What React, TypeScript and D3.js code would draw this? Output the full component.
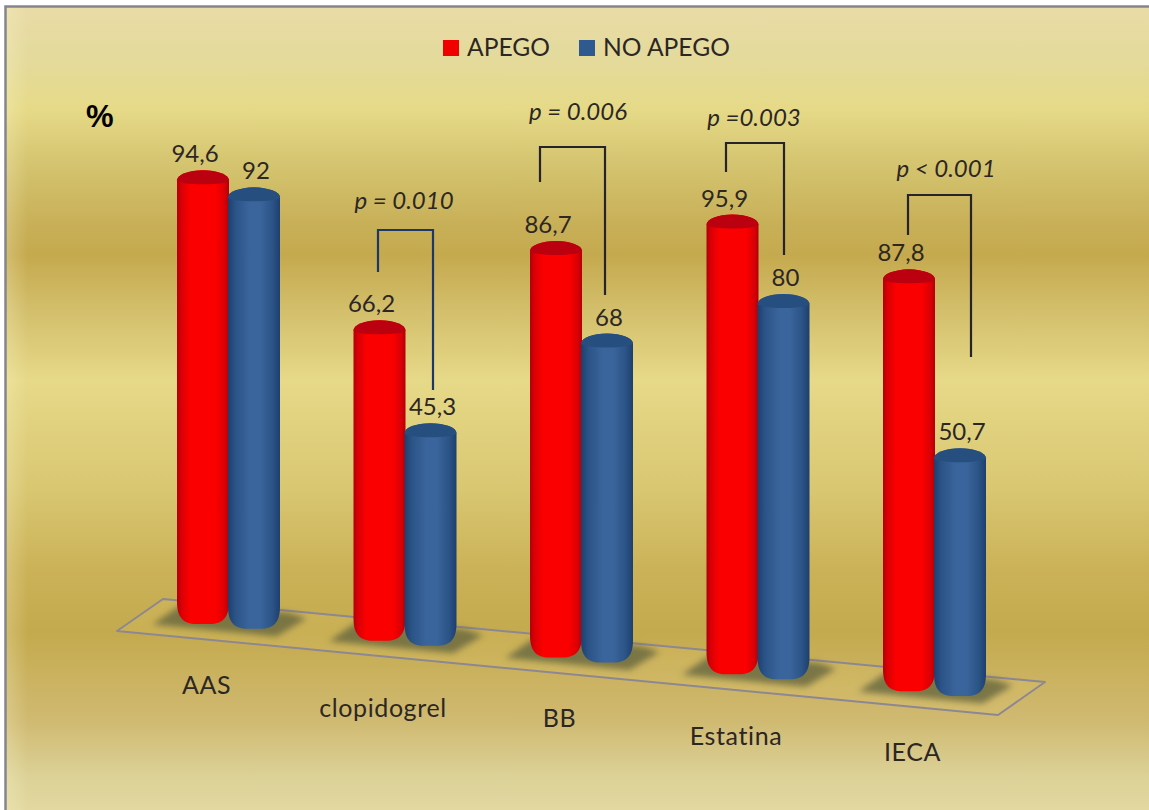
import React, { useEffect, useRef } from 'react';
import * as d3 from 'd3';

const categories = ['AAS', 'clopidogrel', 'BB', 'Estatina', 'IECA'];
const apego = [94.6, 66.2, 86.7, 95.9, 87.8];
const noApego = [92, 45.3, 68, 80, 50.7];
const valueLabelsApego = ['94,6', '66,2', '86,7', '95,9', '87,8'];
const valueLabelsNoApego = ['92', '45,3', '68', '80', '50,7'];
const seriesNames = ['APEGO', 'NO APEGO'];
const pLabels = ['p = 0.010', 'p = 0.006', 'p =0.003', 'p < 0.001'];

const WIDTH = 1149;
const HEIGHT = 810;
const FONT = 'Lato, "Open Sans", sans-serif';
const BAR_W = 52;
const RY_TOP = 10;

// the brackets were placed by hand over the bars in the original slide
const bracketLayout = [
  { left: 378, right: 433, top: 230, leftEnd: 272, rightEnd: 390, labelX: 404, labelY: 209, color: '#1d3768' },
  { left: 540, right: 605, top: 147, leftEnd: 182, rightEnd: 295, labelX: 578, labelY: 120, color: '#26242a' },
  { left: 726, right: 784, top: 143, leftEnd: 172, rightEnd: 255, labelX: 754, labelY: 126, color: '#26242a' },
  { left: 908, right: 971, top: 195, leftEnd: 235, rightEnd: 357, labelX: 946, labelY: 177, color: '#26242a' },
];
const categoryLabelNudge = [1, 7, 0, 1, 0];

const App: React.FC = () => {
  const svgRef = useRef<SVGSVGElement | null>(null);

  useEffect(() => {
    const svg = d3.select(svgRef.current);
    svg.selectAll('*').remove();

    const defs = svg.append('defs');

    const addGradient = (id: string, stops: [number, string][], vertical = false) => {
      const g = defs
        .append('linearGradient')
        .attr('id', id)
        .attr('x1', 0)
        .attr('y1', 0)
        .attr('x2', vertical ? 0 : 1)
        .attr('y2', vertical ? 1 : 0);
      stops.forEach(([o, c]) => g.append('stop').attr('offset', o).attr('stop-color', c));
    };

    addGradient(
      'bg',
      [
        [0, '#e9dba6'],
        [0.064, '#e4da9c'],
        [0.127, '#e6da88'],
        [0.19, '#d6c672'],
        [0.27, '#c8b058'],
        [0.31, '#c5a94e'],
        [0.38, '#d3bf6c'],
        [0.465, '#e6d988'],
        [0.6, '#d9c772'],
        [0.7, '#cbb258'],
        [0.78, '#c4aa4e'],
        [0.89, '#d0ba72'],
        [0.96, '#dcd298'],
        [1, '#e2d8a0'],
      ],
      true
    );
    addGradient('edgeLeft', [
      [0, 'rgba(255,250,215,0.25)'],
      [0.02, 'rgba(255,250,215,0)'],
      [1, 'rgba(255,250,215,0)'],
    ]);
    addGradient('redBar', [
      [0, '#b00008'],
      [0.08, '#d80006'],
      [0.25, '#fb0000'],
      [0.75, '#fb0000'],
      [0.92, '#d80006'],
      [1, '#b00008'],
    ]);
    addGradient('blueBar', [
      [0, '#1d3f6e'],
      [0.14, '#2b5386'],
      [0.42, '#3a659c'],
      [0.62, '#3a659c'],
      [0.86, '#2b5386'],
      [1, '#1d3f6e'],
    ]);
    defs
      .append('filter')
      .attr('id', 'shadowBlur')
      .attr('x', '-20%')
      .attr('y', '-50%')
      .attr('width', '140%')
      .attr('height', '200%')
      .append('feGaussianBlur')
      .attr('stdDeviation', 3);

    // background panel
    svg
      .append('rect')
      .attr('x', 5)
      .attr('y', 6)
      .attr('width', WIDTH - 5)
      .attr('height', HEIGHT - 6)
      .attr('fill', 'url(#bg)');
    svg
      .append('rect')
      .attr('x', 5)
      .attr('y', 6)
      .attr('width', WIDTH - 5)
      .attr('height', HEIGHT - 6)
      .attr('fill', 'url(#edgeLeft)');
    svg
      .append('path')
      .attr('d', `M5.5,${HEIGHT}V6.5H${WIDTH}`)
      .attr('fill', 'none')
      .attr('stroke', '#85858f')
      .attr('stroke-width', 2.5);

    // scales
    const x = d3.scalePoint<string>().domain(categories).range([228.5, 934.5]);
    const h = d3.scaleLinear().domain([0, 100]).range([0, 469]);
    // the floor is tilted, so a bar's foot depends on where it stands
    const floorY = d3.scaleLinear().domain([203, 960]).range([624, 696]);

    // floor
    svg
      .append('path')
      .attr('d', 'M117,631L163,599L1045,682L998,715Z')
      .attr('fill', 'rgba(225,200,110,0.2)')
      .attr('stroke', '#8d8794')
      .attr('stroke-width', 2)
      .attr('stroke-linejoin', 'round');

    // shadows under each pair
    svg
      .append('g')
      .selectAll('path')
      .data(categories)
      .join('path')
      .attr('filter', 'url(#shadowBlur)')
      .attr('fill', '#66663f')
      .attr('fill-opacity', 0.8)
      .attr('d', d => {
        const cx = x(d)!;
        const cy = floorY(cx);
        return `M${cx - 76},${cy - 2}L${cx - 50},${cy - 20}L${cx + 60},${cy - 14}L${cx + 78},${cy - 8}L${cx + 48},${cy + 10}Z`;
      });

    const cylinder = (cx: number, value: number) => {
      const r = BAR_W / 2;
      const bottom = floorY(cx);
      const top = bottom - h(value);
      return (
        `M${cx - r},${top}` +
        `A${r},${RY_TOP} 0 0 1 ${cx + r},${top}` +
        `L${cx + r},${bottom - 22}` +
        `C${cx + r},${bottom - 6} ${cx + r - 7},${bottom} ${cx + 7},${bottom}` +
        `L${cx - 7},${bottom}` +
        `C${cx - r + 7},${bottom} ${cx - r},${bottom - 6} ${cx - r},${bottom - 22}Z`
      );
    };

    // the cap is the full arc on top and a much flatter one underneath
    const cap = (cx: number, value: number) => {
      const r = BAR_W / 2;
      const top = floorY(cx) - h(value);
      return `M${cx - r},${top}A${r},${RY_TOP} 0 0 1 ${cx + r},${top}A${r},4 0 0 1 ${cx - r},${top}Z`;
    };

    const drawSeries = (
      values: number[],
      labels: string[],
      offset: number,
      labelOffset: number,
      fill: string,
      capColor: string
    ) => {
      const g = svg.append('g');
      const rows = categories.map((c, i) => ({ cx: x(c)! + offset, value: values[i], label: labels[i] }));
      g.selectAll('path.bar')
        .data(rows)
        .join('path')
        .attr('class', 'bar')
        .attr('d', d => cylinder(d.cx, d.value))
        .attr('fill', fill);
      g.selectAll('path.cap')
        .data(rows)
        .join('path')
        .attr('class', 'cap')
        .attr('d', d => cap(d.cx, d.value))
        .attr('fill', capColor);
      g.selectAll('text')
        .data(rows)
        .join('text')
        .attr('x', d => d.cx + labelOffset)
        .attr('y', d => floorY(d.cx) - h(d.value) - RY_TOP - 8)
        .attr('text-anchor', 'middle')
        .attr('font-family', FONT)
        .attr('font-size', 24)
        .attr('fill', '#2c2723')
        .text(d => d.label);
    };

    drawSeries(apego, valueLabelsApego, -25.5, -8, 'url(#redBar)', '#bb0010');
    drawSeries(noApego, valueLabelsNoApego, 25.5, 2, 'url(#blueBar)', '#264f80');

    // category labels
    svg
      .append('g')
      .selectAll('text')
      .data(categories)
      .join('text')
      .attr('x', d => x(d)! - 22)
      .attr('y', (d, i) => floorY(x(d)!) + 67 + categoryLabelNudge[i])
      .attr('text-anchor', 'middle')
      .attr('font-family', FONT)
      .attr('font-size', 25)
      .attr('letter-spacing', 0.6)
      .attr('fill', '#2c2723')
      .text(d => d);

    // significance brackets
    bracketLayout.forEach((b, i) => {
      svg
        .append('path')
        .attr('d', `M${b.left},${b.leftEnd}V${b.top}H${b.right}V${b.rightEnd}`)
        .attr('fill', 'none')
        .attr('stroke', b.color)
        .attr('stroke-width', 2.2);
      svg
        .append('text')
        .attr('x', b.labelX)
        .attr('y', b.labelY)
        .attr('text-anchor', 'middle')
        .attr('font-family', FONT)
        .attr('font-style', 'italic')
        .attr('font-size', 24)
        .attr('fill', '#2c2723')
        .text(pLabels[i]);
    });

    // legend
    const legendX = [443, 579];
    const legend = svg.append('g');
    seriesNames.forEach((name, i) => {
      legend
        .append('rect')
        .attr('x', legendX[i])
        .attr('y', 40)
        .attr('width', 16)
        .attr('height', 16)
        .attr('fill', i === 0 ? '#f00000' : '#2f5a90');
      legend
        .append('text')
        .attr('x', legendX[i] + 24)
        .attr('y', 56)
        .attr('font-family', FONT)
        .attr('font-size', 24.6)
        .attr('fill', '#2c2723')
        .text(name);
    });

    svg
      .append('text')
      .attr('x', 86)
      .attr('y', 127)
      .attr('font-family', '"Liberation Sans", Arial, sans-serif')
      .attr('font-weight', 700)
      .attr('font-size', 31)
      .attr('fill', '#000')
      .text('%');
  }, []);

  return (
    <svg
      ref={svgRef}
      width={WIDTH}
      height={HEIGHT}
      style={{ position: 'absolute', left: 0, top: 0, display: 'block' }}
    />
  );
};

export default App;
